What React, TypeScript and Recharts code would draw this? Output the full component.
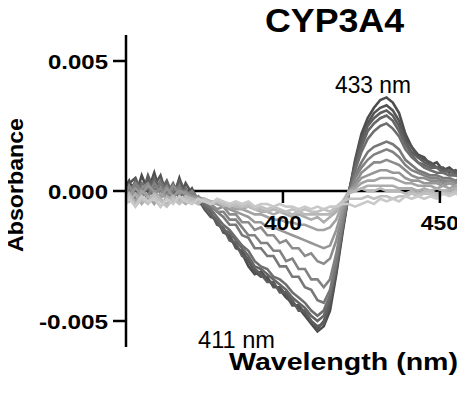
import { LineChart, Line, XAxis, YAxis, ReferenceLine } from "recharts";

// wavelength grid (nm)
const wavelengths = [
  350, 351, 353, 355, 357, 359, 361, 363, 365, 367, 369, 371, 373, 375, 377, 379, 381, 383, 385,
  387, 389, 391, 393, 395, 397, 399, 401, 403, 405, 407, 409, 411, 413, 415, 417, 419, 421, 423,
  425, 427, 429, 431, 433, 435, 437, 439, 441, 443, 445, 447, 449, 451, 453, 455, 457, 458,
];

// difference spectra, absorbance x 1e-4, darkest (highest ligand) first
const spec01 = [
  2, 4, -2, 6, 0, 7, -1, 3, -3, 5, -2, 1, -4, -6, -9, -12, -15, -18, -21, -24, -29, -32, -31, -34,
  -36, -38, -41, -43, -45, -48, -51, -54, -52, -46, -32, -16, -1,
  12, 22, 28, 32, 35, 36, 34, 30, 22, 17, 14, 13, 10, 11, 8, 9, 7, 9, 8,
];
const spec02 = [
  0, 3, 5, -1, 4, 2, 6, -2, 2, -3, 3, -1, -3, -7, -10, -11, -16, -17, -22, -23, -27, -31, -33, -33,
  -37, -37, -40, -44, -44, -47, -50, -53, -50, -44, -31, -15, -1,
  11, 20, 26, 30, 32, 33, 31, 27, 20, 17, 13, 12, 11, 9, 9, 7, 8, 7, 8,
];
const spec03 = [
  -3, 1, 3, -2, 6, 0, 3, 1, -1, 4, 0, -2, -5, -5, -8, -13, -14, -19, -20, -25, -26, -30, -32, -35,
  -35, -39, -39, -42, -46, -46, -50, -52, -51, -42, -30, -14, 0,
  10, 19, 25, 28, 30, 31, 29, 25, 19, 15, 13, 11, 10, 9, 8, 8, 7, 6, 7,
];
const spec04 = [
  1, -2, 4, 1, -3, 5, 0, 4, -2, 1, -3, 0, -4, -6, -9, -11, -15, -16, -19, -22, -25, -29, -30, -32,
  -34, -36, -38, -41, -43, -45, -48, -50, -48, -41, -29, -14, -1,
  9, 17, 23, 26, 28, 29, 27, 23, 18, 14, 11, 10, 9, 9, 7, 8, 6, 7, 6,
];
const spec05 = [
  -1, 2, -3, 3, 1, -2, 4, -1, 3, -2, 1, -3, -2, -5, -7, -10, -13, -15, -18, -21, -23, -27, -29, -30,
  -33, -34, -36, -39, -41, -43, -46, -48, -46, -40, -28, -13, -1,
  8, 15, 20, 23, 25, 26, 24, 21, 16, 13, 11, 9, 8, 7, 7, 6, 6, 5, 6,
];
const spec06 = [
  -2, 0, 2, -3, 2, -1, 3, -3, 0, 2, -2, -1, -3, -4, -6, -8, -10, -13, -13, -17, -18, -22, -22, -25,
  -25, -29, -29, -33, -33, -37, -38, -42, -43, -38, -27, -13, -1,
  6, 11, 15, 17, 18, 19, 18, 16, 12, 10, 8, 7, 6, 6, 5, 5, 4, 5, 4,
];
const spec07 = [
  1, -1, 3, 0, -2, 3, -1, 2, -3, 1, -2, 0, -3, -3, -5, -8, -8, -11, -11, -14, -17, -17, -20, -20,
  -23, -23, -27, -26, -30, -30, -34, -34, -37, -34, -24, -11, -1,
  5, 9, 12, 14, 15, 16, 15, 13, 10, 8, 7, 6, 5, 5, 4, 4, 4, 3, 4,
];
const spec08 = [
  -1, 2, -2, 1, 3, -1, 1, -2, 2, -1, 0, -3, -2, -4, -5, -7, -6, -9, -9, -12, -12, -15, -14, -17,
  -17, -20, -19, -22, -22, -25, -24, -27, -28, -26, -19, -9, 0,
  3, 7, 9, 11, 11, 12, 11, 10, 8, 6, 5, 5, 4, 4, 3, 4, 3, 3, 3,
];
const spec09 = [
  0, -2, 1, -1, 2, 0, -3, 1, -2, 0, -1, -2, -3, -3, -4, -5, -6, -7, -8, -9, -10, -12, -12, -14,
  -14, -15, -16, -17, -18, -19, -20, -21, -22, -21, -15, -7, 0,
  2, 5, 6, 7, 8, 8, 7, 7, 5, 4, 4, 3, 3, 3, 2, 3, 2, 2, 2,
];
const spec10 = [
  -3, -1, -4, 0, -2, -5, -1, -3, -2, -4, -2, -3, -3, -4, -4, -5, -5, -6, -7, -7, -8, -9, -9, -10,
  -11, -11, -12, -12, -13, -13, -14, -15, -15, -14, -11, -5, 0,
  1, 3, 4, 4, 5, 5, 5, 4, 3, 3, 2, 2, 2, 1, 2, 1, 2, 1, 1,
];
const spec11 = [
  -2, -4, -1, -5, -2, -3, -6, -2, -4, -3, -5, -3, -4, -4, -5, -4, -6, -5, -6, -7, -6, -7, -8, -8,
  -9, -8, -9, -10, -9, -10, -11, -10, -12, -10, -8, -4, 0,
  0, 1, 2, 2, 2, 2, 2, 1, 1, 1, 0, 1, 0, 1, 0, 0, 1, 0, 0,
];
const spec12 = [
  -3, -1, -5, -2, -4, -1, -3, -5, -2, -4, -2, -3, -4, -3, -4, -4, -5, -5, -6, -6, -6, -7, -7, -8,
  -7, -8, -8, -9, -8, -9, -9, -9, -9, -9, -7, -4, -1,
  0, 1, 0, 0, 1, 0, 0, 0, -1, 0, -1, 0, 0, -1, 0, -1, 0, 0, 0,
];
const spec13 = [
  -4, -2, -6, -3, -5, -2, -4, -6, -3, -5, -3, -4, -5, -3, -5, -4, -5, -6, -5, -6, -5, -7, -6, -7,
  -6, -7, -8, -7, -8, -7, -8, -8, -7, -8, -6, -4, -3,
  -3, -3, -2, -3, -2, -2, -3, -2, -2, -1, -2, -1, -1, -2, -1, -1, 0, -1, 0,
];
const spec14 = [
  -5, -3, -6, -2, -4, -3, -6, -3, -5, -2, -4, -5, -3, -4, -5, -3, -4, -5, -4, -5, -4, -6, -5, -5,
  -6, -5, -6, -6, -7, -6, -7, -6, -7, -6, -6, -5, -5,
  -6, -5, -4, -5, -3, -4, -3, -4, -2, -3, -2, -3, -2, -3, -1, -2, -1, -2, -1,
];

const spectra = [
  spec01, spec02, spec03, spec04, spec05, spec06, spec07,
  spec08, spec09, spec10, spec11, spec12, spec13, spec14,
];
const grays = [
  "#4d4d4d", "#555555", "#5d5d5d", "#656565", "#6e6e6e", "#787878", "#828282",
  "#8c8c8c", "#979797", "#a2a2a2", "#adadad", "#b7b7b7", "#c0c0c0", "#c9c9c9",
];

const xTicks = [400, 450];
const yTicks = [-0.005, 0, 0.005];

const W = 457;
const H = 392;
const margin = { top: 27, right: 0, bottom: 33, left: 8 };
const X_AXIS_H = 20;
const yDomain: [number, number] = [-0.006, 0.006];
const plotH = H - margin.top - margin.bottom - X_AXIS_H;
const zeroY = margin.top + (plotH * yDomain[1]) / (yDomain[1] - yDomain[0]);
const FONT = "'Liberation Sans', Arial, Helvetica, sans-serif";

const rows = wavelengths.map((wl, i) => {
  const r: Record<string, number> = { wl };
  spectra.forEach((s, k) => {
    r[`s${k + 1}`] = s[i] / 10000;
  });
  return r;
});

// x axis sits on the zero line, so draw its ticks there
function XTick({ x, payload }: any) {
  return (
    <g>
      <line x1={x} x2={x} y1={zeroY} y2={zeroY + 12} stroke="#000" strokeWidth={2.5} />
      <text
        x={x}
        y={zeroY + 39}
        textAnchor="middle"
        fontFamily={FONT}
        fontWeight="bold"
        fontSize={21}
        fill="#000"
        textLength={38}
        lengthAdjust="spacingAndGlyphs"
      >
        {payload.value}
      </text>
    </g>
  );
}

function YTick({ x, y, payload }: any) {
  const label = payload.value.toFixed(3);
  return (
    <text
      x={x}
      y={y}
      dy="0.36em"
      textAnchor="end"
      fontFamily={FONT}
      fontWeight="bold"
      fontSize={21}
      fill="#000"
      textLength={label.startsWith("-") ? 69 : 60}
      lengthAdjust="spacingAndGlyphs"
    >
      {label}
    </text>
  );
}

const txt = { fontFamily: FONT, fill: "#000" };

export default function App() {
  return (
    <div style={{ position: "relative", width: W, height: H }}>
      <style>{"body{overflow:hidden}"}</style>
      <LineChart width={W} height={H} data={rows} margin={margin}>
        <XAxis
          dataKey="wl"
          type="number"
          domain={[350, 458]}
          ticks={xTicks}
          axisLine={false}
          tickLine={false}
          tickSize={0}
          height={X_AXIS_H}
          tick={<XTick />}
          allowDataOverflow
        />
        <YAxis
          type="number"
          domain={yDomain}
          ticks={yTicks}
          width={110}
          axisLine={{ stroke: "#000", strokeWidth: 2.5 }}
          tickLine={{ stroke: "#000", strokeWidth: 2.5 }}
          tickSize={13}
          tickMargin={5}
          tick={<YTick />}
          allowDataOverflow
        />
        <ReferenceLine y={0} stroke="#000" strokeWidth={2.5} />
        {spectra.map((_, k) => (
          <Line
            key={k}
            type="linear"
            dataKey={`s${k + 1}`}
            stroke={grays[k]}
            strokeWidth={2.6}
            dot={false}
            isAnimationActive={false}
          />
        ))}
      </LineChart>
      {/* overlay uses page coordinates */}
      <svg
        width={465}
        height={400}
        style={{ position: "absolute", left: -8, top: -8, pointerEvents: "none" }}
      >
        <text x={265} y={32} {...txt} fontSize={33} fontWeight="bold" textLength={139} lengthAdjust="spacingAndGlyphs">
          CYP3A4
        </text>
        <text x={335} y={93} {...txt} fontSize={23} textLength={76} lengthAdjust="spacingAndGlyphs">
          433 nm
        </text>
        <text x={198} y={348} {...txt} fontSize={23} textLength={77} lengthAdjust="spacingAndGlyphs">
          411 nm
        </text>
        <text
          x={23}
          y={185}
          transform="rotate(-90 23 185)"
          textAnchor="middle"
          {...txt}
          fontSize={22}
          fontWeight="bold"
          textLength={134}
          lengthAdjust="spacingAndGlyphs"
        >
          Absorbance
        </text>
        <text x={229} y={370} {...txt} fontSize={23} fontWeight="bold" textLength={229} lengthAdjust="spacingAndGlyphs">
          Wavelength (nm)
        </text>
      </svg>
    </div>
  );
}
